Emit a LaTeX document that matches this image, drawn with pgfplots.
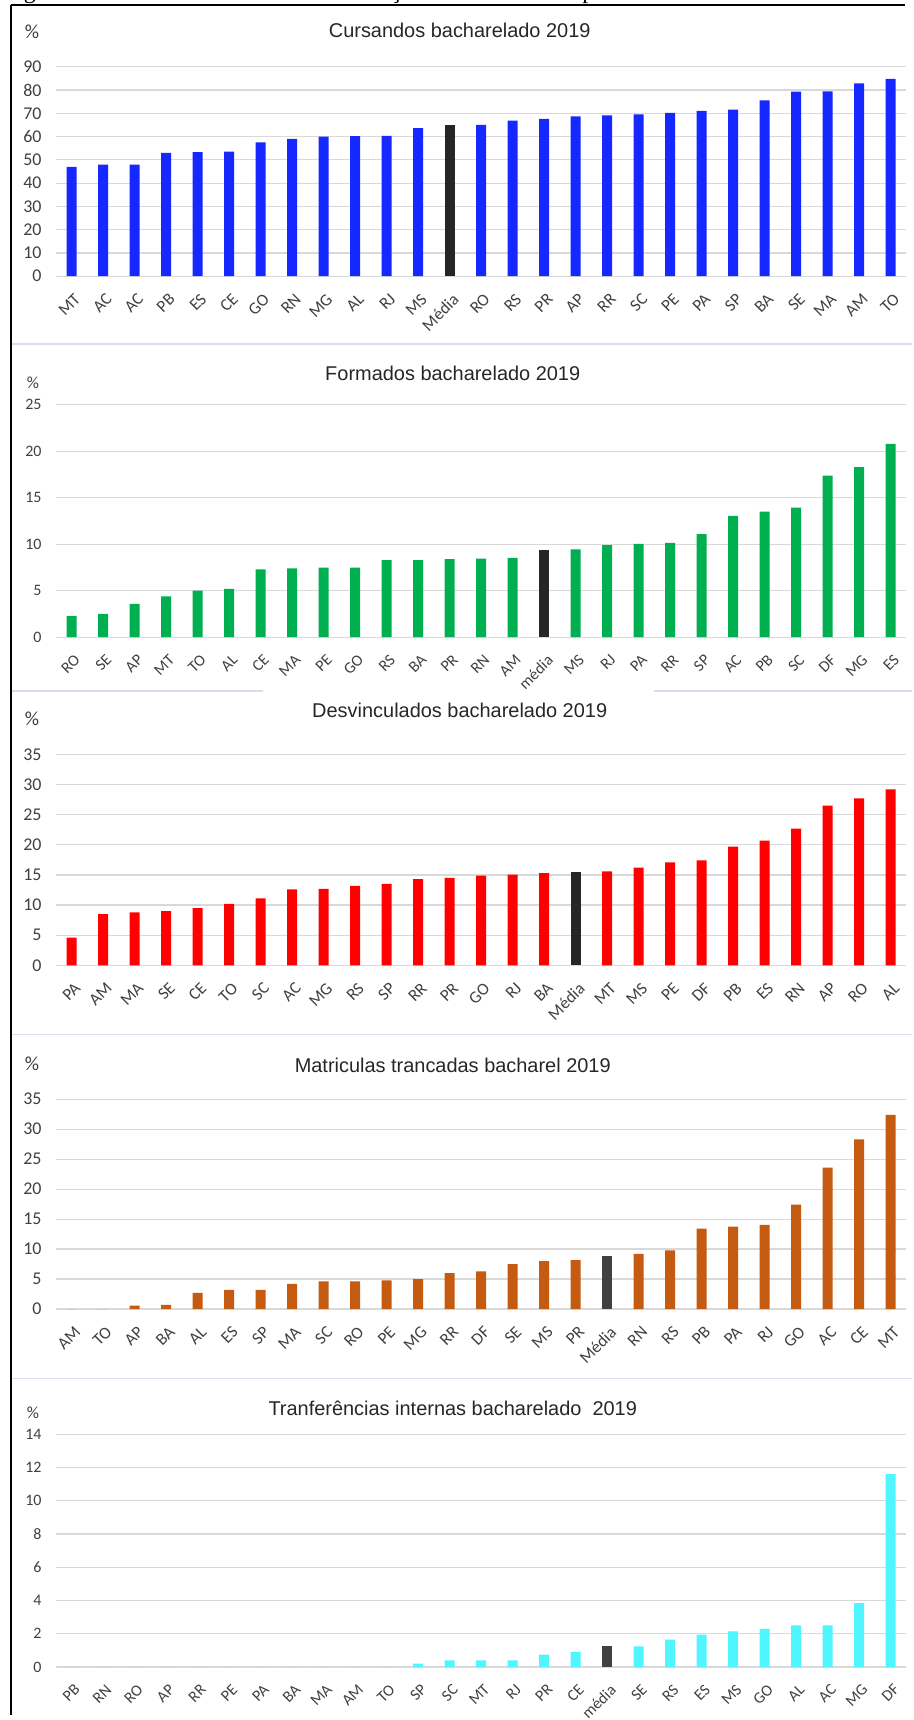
\documentclass[border=0pt]{standalone}
\usepackage{fontspec}
\setmainfont{Liberation Sans}
\newfontfamily\calib{Carlito}
\newfontfamily\serifcap{Liberation Serif}
\usepackage{pgfplots}
\pgfplotsset{compat=1.18}

\definecolor{cblue}{HTML}{1428FF}
\definecolor{cgreen}{HTML}{00B050}
\definecolor{cred}{HTML}{FF0000}
\definecolor{corange}{HTML}{C55A11}
\definecolor{ccyan}{HTML}{50F5FF}
\definecolor{cdark}{HTML}{262626}
\definecolor{cdark2}{HTML}{404040}
\definecolor{gridgray}{HTML}{D9D9D9}
\definecolor{sepblue}{HTML}{D5DDEE}
\definecolor{txtgray}{HTML}{404040}

\pgfplotsset{
  panel/.style={
    scale only axis, width=426.5pt,
    xmin=-0.5, xmax=26.5, ymin=0,
    axis line style={draw=none},
    major tick length=0pt,
    ymajorgrids, grid style={draw=gridgray, line width=0.6pt},
    xtick={0,...,26},
    /pgf/number format/assume math mode=true,
    yticklabel style={font=\calib\fontsize{9}{9}\selectfont, text=txtgray, anchor=east, inner sep=0pt, xshift=-7pt},
    xticklabel style={font=\calib\fontsize{8.5}{8.5}\selectfont, text=txtgray, xshift=1pt, yshift=-8pt, rotate=45, anchor=north east, inner sep=0pt},
    ybar, bar width=5pt,
  },
  bars/.style={fill=#1, draw=none, bar shift=0pt},
}

\begin{document}
\begin{tikzpicture}
\path (0pt,0pt) rectangle (457.5pt,-860pt);
% clipped caption line above the frame
\begin{scope}
\clip (0pt,0pt) rectangle (457.5pt,-2pt);
\node[font=\serifcap\fontsize{12}{12}\selectfont, anchor=base] at (15pt,1pt) {g};
\node[font=\serifcap\fontsize{12}{12}\selectfont, anchor=base] at (198.5pt,1pt) {ç};
\node[font=\serifcap\fontsize{12}{12}\selectfont, anchor=base] at (295pt,1pt) {p};
\end{scope}
% frame
\draw[line width=1.3pt] (5.5pt,-2.5pt) -- (454pt,-2.5pt);
\draw[line width=1.3pt] (5.5pt,-2.5pt) -- (5.5pt,-860pt);
% separators
\draw[sepblue, line width=0.6pt] (6pt,-172.5pt) -- (457.5pt,-172.5pt);
\draw[sepblue, line width=0.6pt] (6pt,-346.5pt) -- (132pt,-346.5pt);
\draw[sepblue, line width=0.6pt] (328pt,-346.5pt) -- (457.5pt,-346.5pt);
\draw[sepblue, line width=0.6pt] (6pt,-518.5pt) -- (457.5pt,-518.5pt);
\draw[sepblue, line width=0.6pt] (6pt,-691pt) -- (457.5pt,-691pt);

% ---------- Panel 1 ----------
\node[font=\fontsize{10}{12}\selectfont, text=black!85] at (230.5pt,-15pt) {Cursandos bacharelado 2019};
\node[font=\calib\fontsize{10}{10}\selectfont, text=txtgray] at (16pt,-16pt) {\%};
\begin{axis}[panel, at={(28pt,-138.5pt)}, anchor=south west, height=105pt,
  ymax=90, ytick={0,10,...,90},
  xticklabels={MT,AC,AC,PB,ES,CE,GO,RN,MG,AL,RJ,MS,Média,RO,RS,PR,AP,RR,SC,PE,PA,SP,BA,SE,MA,AM,TO}]
\addplot[bars=cblue] coordinates {(0,47) (1,48) (2,48) (3,53) (4,53.3) (5,53.6) (6,57.5) (7,59) (8,60) (9,60.2) (10,60.3) (11,63.7)
 (13,65) (14,66.9) (15,67.6) (16,68.7) (17,69.1) (18,69.6) (19,70.2) (20,71.1) (21,71.6) (22,75.6) (23,79.3) (24,79.4) (25,82.9) (26,84.8)};
\addplot[bars=cdark] coordinates {(12,64.8)};
\end{axis}

% ---------- Panel 2 ----------
\node[font=\fontsize{10}{12}\selectfont, text=black!85] at (227pt,-187pt) {Formados bacharelado 2019};
\node[font=\calib\fontsize{8.5}{8.5}\selectfont, text=txtgray] at (16.5pt,-192pt) {\%};
\begin{axis}[panel, at={(28pt,-319.5pt)}, anchor=south west, height=116.5pt,
  ymax=25, ytick={0,5,...,25},
  yticklabel style={font=\calib\fontsize{8}{8}\selectfont},
  xticklabel style={font=\calib\fontsize{8}{8}\selectfont},
  xticklabels={RO,SE,AP,MT,TO,AL,CE,MA,PE,GO,RS,BA,PR,RN,AM,média,MS,RJ,PA,RR,SP,AC,PB,SC,DF,MG,ES}]
\addplot[bars=cgreen] coordinates {(0,2.3) (1,2.5) (2,3.6) (3,4.4) (4,5.0) (5,5.2) (6,7.3) (7,7.4) (8,7.5) (9,7.5) (10,8.3) (11,8.3) (12,8.4) (13,8.45) (14,8.55)
 (16,9.45) (17,9.9) (18,10.05) (19,10.15) (20,11.1) (21,13.05) (22,13.5) (23,13.95) (24,17.4) (25,18.3) (26,20.8)};
\addplot[bars=cdark] coordinates {(15,9.35)};
\end{axis}

% ---------- Panel 3 ----------
\node[font=\fontsize{10}{12}\selectfont, text=black!85] at (230.5pt,-356pt) {Desvinculados bacharelado 2019};
\node[font=\calib\fontsize{10}{10}\selectfont, text=txtgray] at (16pt,-360.5pt) {\%};
\begin{axis}[panel, at={(28pt,-484pt)}, anchor=south west, height=105.75pt,
  ymax=35, ytick={0,5,...,35},
  xticklabels={PA,AM,MA,SE,CE,TO,SC,AC,MG,RS,SP,RR,PR,GO,RJ,BA,Média,MT,MS,PE,DF,PB,ES,RN,AP,RO,AL}]
\addplot[bars=cred] coordinates {(0,4.6) (1,8.5) (2,8.8) (3,9.0) (4,9.5) (5,10.2) (6,11.1) (7,12.6) (8,12.7) (9,13.2) (10,13.5) (11,14.3) (12,14.5) (13,14.9) (14,15.05) (15,15.3)
 (17,15.6) (18,16.2) (19,17.1) (20,17.4) (21,19.7) (22,20.7) (23,22.7) (24,26.5) (25,27.7) (26,29.2)};
\addplot[bars=cdark] coordinates {(16,15.45)};
\end{axis}

% ---------- Panel 4 ----------
\node[font=\fontsize{10}{12}\selectfont, text=black!85] at (227pt,-534pt) {Matriculas trancadas bacharel 2019};
\node[font=\calib\fontsize{10}{10}\selectfont, text=txtgray] at (16pt,-533.5pt) {\%};
\begin{axis}[panel, at={(28pt,-656.35pt)}, anchor=south west, height=105.2pt,
  ymax=35, ytick={0,5,...,35},
  xticklabels={AM,TO,AP,BA,AL,ES,SP,MA,SC,RO,PE,MG,RR,DF,SE,MS,PR,Média,RN,RS,PB,PA,RJ,GO,AC,CE,MT}]
\addplot[bars=corange] coordinates {(0,0) (1,0) (2,0.55) (3,0.7) (4,2.7) (5,3.2) (6,3.2) (7,4.2) (8,4.6) (9,4.6) (10,4.8) (11,5.0) (12,6.0) (13,6.3) (14,7.5) (15,8.0) (16,8.15)
 (18,9.2) (19,9.8) (20,13.4) (21,13.75) (22,14.05) (23,17.4) (24,23.6) (25,28.3) (26,32.4)};
\addplot[bars=cdark2] coordinates {(17,8.9)};
\end{axis}

% ---------- Panel 5 ----------
\node[font=\fontsize{10}{12}\selectfont, text=black!85] at (227pt,-706pt) {Tranferências internas bacharelado\ \ 2019};
\node[font=\calib\fontsize{8.5}{8.5}\selectfont, text=txtgray] at (16.5pt,-708.5pt) {\%};
\begin{axis}[panel, at={(28pt,-835.85pt)}, anchor=south west, height=116.7pt,
  ymax=14, ytick={0,2,...,14},
  yticklabel style={font=\calib\fontsize{8}{8}\selectfont},
  xticklabel style={font=\calib\fontsize{8}{8}\selectfont},
  xticklabels={PB,RN,RO,AP,RR,PE,PA,BA,MA,AM,TO,SP,SC,MT,RJ,PR,CE,média,SE,RS,ES,MS,GO,AL,AC,MG,DF}]
\addplot[bars=ccyan] coordinates {(0,0) (1,0) (2,0) (3,0) (4,0) (5,0) (6,0) (7,0) (8,0) (9,0) (10,0) (11,0.2) (12,0.4) (13,0.4) (14,0.4) (15,0.75) (16,0.9)
 (18,1.25) (19,1.65) (20,1.95) (21,2.15) (22,2.3) (23,2.5) (24,2.5) (25,3.85) (26,11.6)};
\addplot[bars=cdark2] coordinates {(17,1.25)};
\end{axis}
\end{tikzpicture}
\end{document}
